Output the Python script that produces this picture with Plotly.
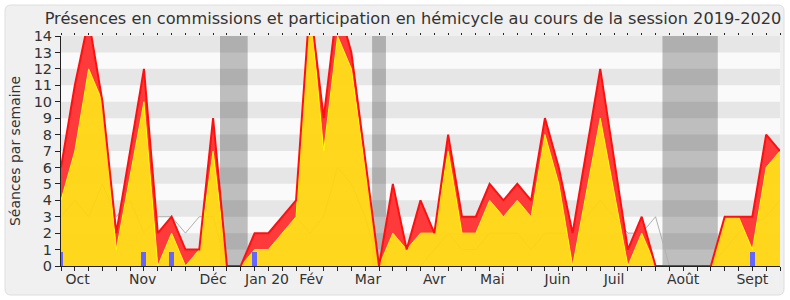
import plotly.graph_objects as go

# Week index of the session (0 = first week of October 2019)
weeks = list(range(53))

# Total activity (commission + hémicycle) per week
total = [6, 11, 15, 10, 2, 7, 12, 2, 3, 1, 1, 9, 0, 0, 2, 2, 3, 4, 16, 9,
         16, 13, 6.5, 0, 5, 1, 4, 2, 8, 3, 3, 5, 4, 5, 4, 9, 6, 2, 7, 12,
         6.5, 1, 3, 0, 0, 0, 0, 0, 3, 3, 3, 8, 7]
# Commission presences per week
commission = [4, 7, 12, 10, 1, 5.5, 10, 0, 2, 0, 1, 7, 0, 0, 1, 1, 2, 3, 16, 7,
              14, 12, 6, 0, 2, 1, 2, 2, 7, 2, 2, 4, 3, 4, 3, 8, 5, 0, 4.5, 9,
              4.5, 0, 2, 0, 0, 0, 0, 0, 3, 3, 1, 6, 7]
# Median of all deputies per week
median = [3, 4, 3, 5, 3, 4, 2, 3, 3, 2, 3, 3, 0, 0, 1, 1, 2, 3, 2, 3,
          6, 5, 3, 0, 0, 0, 0, 1, 2, 1, 1, 2, 2, 2, 1, 2, 2, 2, 3, 4,
          3, 2, 2, 3, 0, 0, 0, 0, 1, 2, 2.5, 3, 4]
# Small blue bars (weeks and values)
bar_weeks = [0, 6, 8, 14, 50]
bar_values = [0.87, 0.87, 0.87, 0.87, 0.87]

# Vacation periods (week ranges)
vacations = [(11.5, 13.5), (22.5, 23.5), (43.5, 47.5)]

# Month labels
month_labels = ["Oct", "Nov", "Déc", "Jan 20", "Fév", "Mar", "Avr", "Mai",
                "Juin", "Juil", "Août", "Sept"]
month_pos = [1.2, 5.9, 11.0, 14.9, 18.1, 22.2, 27.0, 31.2, 35.9, 40.0, 45.0, 50.0]

FONT = "DejaVu Sans"
TXT = "#333333"

fig = go.Figure()

# median line (below the areas)
fig.add_trace(go.Scatter(x=weeks, y=median, mode="lines",
                         line=dict(color="#b0b0b0", width=1),
                         hoverinfo="skip", showlegend=False))
# commission area
fig.add_trace(go.Scatter(x=weeks, y=commission, mode="lines", fill="tozeroy",
                         fillcolor="rgba(255,212,12,0.93)",
                         line=dict(color="#ffff00", width=1),
                         hoverinfo="skip", showlegend=False))
# total area stacked above commission area
fig.add_trace(go.Scatter(x=weeks, y=total, mode="lines", fill="tonexty",
                         fillcolor="rgb(255,58,58)",
                         line=dict(color="#ff1010", width=2),
                         hoverinfo="skip", showlegend=False))
# blue bars on an overlaid axis so they sit above the areas
fig.add_trace(go.Bar(x=bar_weeks, y=bar_values, width=0.36, yaxis="y2",
                     marker=dict(color="#6464ff", line=dict(width=0)),
                     hoverinfo="skip", showlegend=False))
# invisible trace for top tick axis
fig.add_trace(go.Scatter(x=[0], y=[0], xaxis="x2", mode="markers",
                         marker=dict(opacity=0), hoverinfo="skip", showlegend=False))

W, H = 790, 300
L, R, T, B = 61, 10, 36, 34
pw, ph = W - L - R, H - T - B

def px(xp):
    return (xp - L) / pw

def py(yp):
    return (H - B - yp) / ph

shapes = []
# outer rounded frame
x0, x1, y0, y1 = px(5), px(784), py(295), py(5)
rx, ry = 6 / pw, 6 / ph
path = (f"M {x0+rx},{y0} L {x1-rx},{y0} Q {x1},{y0} {x1},{y0+ry} "
        f"L {x1},{y1-ry} Q {x1},{y1} {x1-rx},{y1} L {x0+rx},{y1} "
        f"Q {x0},{y1} {x0},{y1-ry} L {x0},{y0+ry} Q {x0},{y0} {x0+rx},{y0} Z")
shapes.append(dict(type="path", path=path, xref="paper", yref="paper",
                   fillcolor="#f0f0f0", line=dict(color="#dedede", width=1),
                   layer="below"))
# plot background
shapes.append(dict(type="rect", xref="x", yref="y", x0=0, x1=52, y0=0, y1=14,
                   fillcolor="#fafafa", line=dict(width=0), layer="below"))
# vacation bands
for a, b in vacations:
    shapes.append(dict(type="rect", xref="x", yref="y", x0=a, x1=b, y0=0, y1=14,
                       fillcolor="#bebebe", line=dict(width=0), layer="below"))
# horizontal stripes
for k in range(1, 14, 2):
    shapes.append(dict(type="rect", xref="x", yref="y", x0=0, x1=52, y0=k, y1=k + 1,
                       fillcolor="rgba(0,0,0,0.08)", line=dict(width=0), layer="below"))

fig.update_layout(
    width=W, height=H,
    margin=dict(l=L, r=R, t=T, b=B, autoexpand=False),
    paper_bgcolor="white",
    plot_bgcolor="rgba(0,0,0,0)",
    font=dict(family=FONT, color=TXT, size=14),
    title=dict(text="Présences en commissions et participation en hémicycle au cours de la session 2019-2020",
               x=413 / W, xanchor="center", y=1 - 18 / H, yanchor="middle",
               font=dict(family=FONT, size=16.2, color=TXT)),
    shapes=shapes,
    bargap=0,
    xaxis=dict(range=[0, 52], showgrid=False, zeroline=False,
               showline=True, linecolor="#222222", linewidth=1,
               tickmode="array", tickvals=month_pos, ticktext=month_labels,
               ticks="", tickfont=dict(size=14, color=TXT),
               minor=dict(ticks="outside", ticklen=4, tickcolor="#222222",
                          tickmode="linear", tick0=0, dtick=1, showgrid=False),
               fixedrange=True),
    xaxis2=dict(range=[0, 52], overlaying="x", side="top", showgrid=False,
                zeroline=False, showline=False, showticklabels=False,
                tickmode="linear", tick0=0, dtick=1, ticks="outside",
                ticklen=2, tickcolor="#222222"),
    yaxis=dict(range=[0, 14], showgrid=False, zeroline=False,
               showline=True, linecolor="#222222", linewidth=1,
               tickmode="linear", tick0=0, dtick=1, ticks="outside", ticklen=5,
               tickcolor="#222222", tickfont=dict(size=14.5, color=TXT),
               title=dict(text="Séances par semaine", font=dict(size=14, color=TXT),
                          standoff=9),
               fixedrange=True),
    yaxis2=dict(range=[0, 14], overlaying="y", showgrid=False, zeroline=False,
                showline=False, showticklabels=False, ticks="", fixedrange=True),
)

fig.write_html("out.html")
